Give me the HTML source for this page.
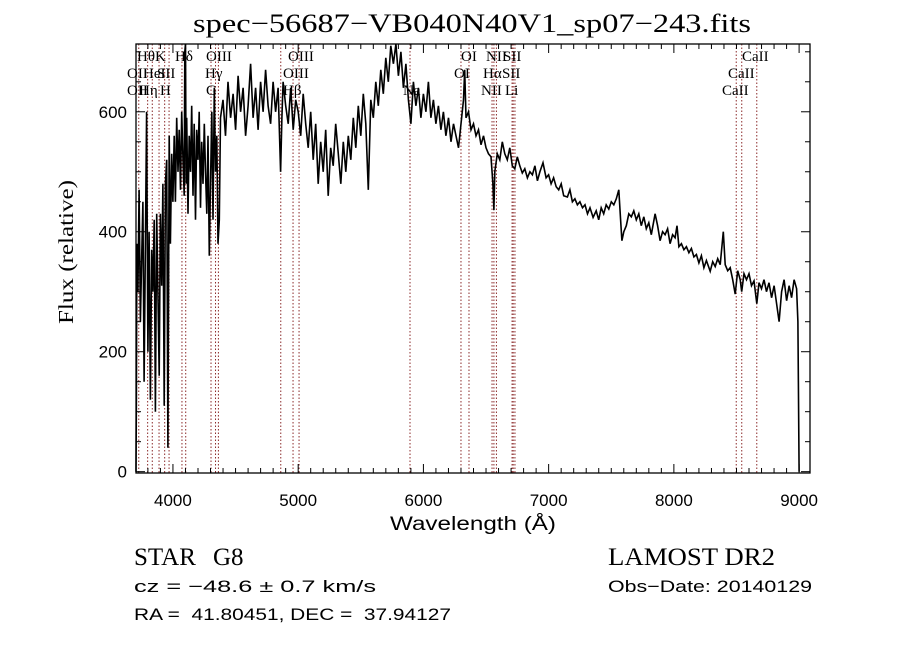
<!DOCTYPE html>
<html><head><meta charset="utf-8"><style>
html,body{margin:0;padding:0;background:#fff;}
svg{display:block;}
text{white-space:pre;}
</style></head><body>
<svg id="chart" width="900" height="649" viewBox="0 0 900 649" xmlns="http://www.w3.org/2000/svg">
<rect x="0" y="0" width="900" height="649" fill="#fff"/>
<text x="193" y="32" font-family="Liberation Serif, serif" font-size="26" textLength="558" lengthAdjust="spacingAndGlyphs">spec−56687−VB040N40V1_sp07−243.fits</text>
<g id="lines"></g>
<g id="labels" font-family="Liberation Serif, serif" font-size="15"></g>
<g id="series"></g>
<g id="axes"></g>
<text x="390" y="530" font-family="Liberation Sans, sans-serif" font-size="19" textLength="166" lengthAdjust="spacingAndGlyphs">Wavelength (Å)</text>
<text transform="translate(73,324) rotate(-90)" x="0" y="0" font-family="Liberation Serif, serif" font-size="21" textLength="144" lengthAdjust="spacingAndGlyphs">Flux (relative)</text>
<text x="134" y="565" font-family="Liberation Serif, serif" font-size="25">STAR</text>
<text x="213" y="565" font-family="Liberation Serif, serif" font-size="25">G8</text>
<text x="608" y="565" font-family="Liberation Serif, serif" font-size="25" textLength="167" lengthAdjust="spacingAndGlyphs">LAMOST DR2</text>
<text x="134" y="592" font-family="Liberation Sans, sans-serif" font-size="17" textLength="242" lengthAdjust="spacingAndGlyphs">cz = −48.6 ± 0.7 km/s</text>
<text x="608" y="592" font-family="Liberation Sans, sans-serif" font-size="17" textLength="204" lengthAdjust="spacingAndGlyphs">Obs−Date: 20140129</text>
<text x="134" y="620" font-family="Liberation Sans, sans-serif" font-size="17" textLength="317" lengthAdjust="spacingAndGlyphs">RA =  41.80451, DEC =  37.94127</text>
</svg>
<script>
const wave = [3705,3708,3712,3720,3730,3740,3750,3760,3770,3780,3790,3800,3810,3820,3830,3840,3850,3860,3870,3880,3890,3900,3910,3920,3930,3940,3950,3960,3970,3980,3990,4000,4010,4020,4030,4040,4050,4060,4070,4080,4090,4095,4100,4105,4110,4120,4130,4140,4150,4160,4170,4180,4190,4200,4210,4220,4230,4240,4250,4260,4270,4280,4290,4300,4310,4320,4330,4340,4350,4360,4370,4380,4400,4420,4440,4460,4480,4500,4520,4540,4560,4580,4600,4620,4640,4660,4680,4700,4720,4740,4760,4780,4800,4820,4840,4860,4870,4880,4900,4920,4940,4960,4980,5000,5020,5040,5060,5080,5100,5120,5140,5160,5180,5200,5220,5240,5260,5280,5300,5320,5340,5360,5380,5400,5420,5440,5460,5480,5500,5520,5540,5560,5580,5600,5620,5640,5660,5680,5700,5720,5740,5760,5780,5800,5820,5840,5860,5880,5900,5920,5940,5960,5980,6000,6020,6040,6060,6080,6100,6120,6140,6160,6180,6200,6220,6240,6260,6280,6300,6320,6330,6340,6360,6380,6400,6420,6440,6460,6480,6500,6520,6540,6555,6563,6570,6590,6610,6630,6650,6670,6690,6710,6730,6750,6770,6790,6810,6830,6850,6870,6890,6910,6930,6955,6980,7000,7020,7040,7060,7080,7100,7120,7150,7170,7190,7210,7230,7250,7270,7290,7310,7330,7355,7380,7400,7420,7440,7460,7480,7500,7520,7540,7560,7575,7585,7600,7620,7640,7660,7680,7700,7720,7740,7760,7780,7800,7820,7850,7870,7890,7910,7930,7950,7970,7990,8010,8025,8040,8060,8080,8100,8120,8140,8160,8180,8200,8220,8240,8260,8290,8310,8330,8350,8370,8395,8410,8430,8450,8470,8490,8510,8530,8542,8560,8580,8600,8620,8640,8662,8680,8700,8720,8740,8760,8780,8800,8820,8840,8860,8880,8900,8920,8940,8960,8980,8990,9000];
const flux = [0,130,380,300,470,250,350,450,150,380,600,200,400,120,370,300,420,100,430,300,160,430,310,480,110,480,520,40,560,380,530,450,560,450,590,500,570,470,600,520,460,700,730,480,590,430,560,500,610,460,580,420,570,520,600,440,550,480,580,500,430,560,360,480,600,420,640,500,560,380,420,590,620,560,650,590,630,570,660,600,640,560,610,680,590,640,570,650,600,670,610,580,650,600,640,500,590,650,610,580,640,570,620,600,560,630,580,540,600,520,580,480,550,500,570,460,540,510,580,530,480,550,500,560,520,590,540,610,560,630,580,470,620,590,650,610,670,630,690,650,710,680,720,660,700,640,680,620,580,650,610,640,590,630,600,650,590,620,580,610,570,600,560,590,550,580,560,540,580,620,670,590,600,570,580,560,570,545,560,540,530,525,480,436,500,530,520,550,530,520,540,510,505,525,510,498,505,490,500,495,510,485,500,515,490,495,480,490,475,470,480,460,458,470,450,455,445,450,440,445,430,440,424,435,420,440,430,445,438,450,445,455,470,420,385,400,410,430,425,435,420,430,410,425,405,415,395,430,410,385,400,395,405,380,395,390,410,375,380,370,375,365,372,358,362,348,360,340,352,334,350,342,355,345,400,345,335,340,320,296,335,320,300,330,320,330,310,318,280,315,305,320,300,315,290,310,280,250,300,320,285,310,290,320,305,250,0];
const lineWaves = [3727,3798,3835,3889,3934,3969,4072,4102,4304,4340,4363,4861,4959,5007,5893,6300,6364,6548,6563,6583,6708,6717,6731,8498,8542,8662];
const xTicks = [4000,5000,6000,7000,8000,9000];
const yTicks = [0,200,400,600];
const labelNames = ["Hθ","K","Hδ","OIII","OIII","OI","NII","SII","CaII","OII","HeI","SII","Hγ","OIII","OI","Hα","SII","CaII","OII","Hη","H","G","Hβ","Na","NII","Li","CaII"];

const L=136,R=810,T=44,B=473;
const X0=3705, X1=9087, Y0=-2.2, Y1=713;
const xs = v => L + (v - X0) / (X1 - X0) * (R - L);
const ys = v => B - (v - Y0) / (Y1 - Y0) * (B - T);
const NS="http://www.w3.org/2000/svg";
function mk(tag, parent){const e=document.createElementNS(NS,tag);parent.appendChild(e);return e;}

const lg=document.getElementById('lines');
lineWaves.forEach(w=>{
  const l=mk('line',lg);
  
  
  l.setAttribute('x1',xs(w));l.setAttribute('x2',xs(w));
  l.setAttribute('y1',T);l.setAttribute('y2',B);
  l.setAttribute('stroke','#8b2a2a');l.setAttribute('stroke-width','1');
  l.setAttribute('stroke-dasharray','1.5,2');
});

const labX=[137,155,175,206,288,461,486,503,742, 127,143,157,205,283,454,483,502,728, 127,139,160,206,283,403,481,505,722];
const rowY=[61,78,95];
const lb=document.getElementById('labels');
labelNames.forEach((n,i)=>{
  const t=mk('text',lb);
  
  
  t.setAttribute('x',labX[i]);t.setAttribute('y',rowY[Math.floor(i/9)]);
  t.textContent=n;
});

const sg=document.getElementById('series');
const pl=mk('polyline',sg);


pl.setAttribute('points',wave.map((w,i)=>xs(w).toFixed(1)+','+Math.max(T,ys(flux[i])).toFixed(1)).join(' '));
pl.setAttribute('fill','none');pl.setAttribute('stroke','#000');pl.setAttribute('stroke-width','1.6');

const ag=document.getElementById('axes');
const fr=mk('rect',ag);


fr.setAttribute('x',L);fr.setAttribute('y',T);fr.setAttribute('width',R-L);fr.setAttribute('height',B-T);
fr.setAttribute('fill','none');fr.setAttribute('stroke','#000');fr.setAttribute('stroke-width','1.3');
function tick(x1,y1,x2,y2){const t=mk('line',ag);
  
  
  t.setAttribute('x1',x1);t.setAttribute('y1',y1);t.setAttribute('x2',x2);t.setAttribute('y2',y2);t.setAttribute('stroke','#000');t.setAttribute('stroke-width','1');}
for(let w=3800;w<=X1;w+=100){const x=xs(w);const len=(w%1000===0)?9:5;tick(x,B,x,B-len);tick(x,T,x,T+len);}
for(let v=0;v<=Y1;v+=50){const y=ys(v);const len=(v%200===0)?9:5;tick(L,y,L+len,y);tick(R,y,R-len,y);}
xTicks.forEach(v=>{const t=mk('text',ag);
  
  
  t.setAttribute('x',xs(v));t.setAttribute('y',506);t.setAttribute('text-anchor','middle');
  t.setAttribute('font-family','Liberation Sans, sans-serif');t.setAttribute('font-size','17');t.textContent=v;});
yTicks.forEach(v=>{const t=mk('text',ag);
  
  
  t.setAttribute('x',127);t.setAttribute('y',ys(v)+6);t.setAttribute('text-anchor','end');
  t.setAttribute('font-family','Liberation Sans, sans-serif');t.setAttribute('font-size','17');t.textContent=v;});
</script>
</body></html>
